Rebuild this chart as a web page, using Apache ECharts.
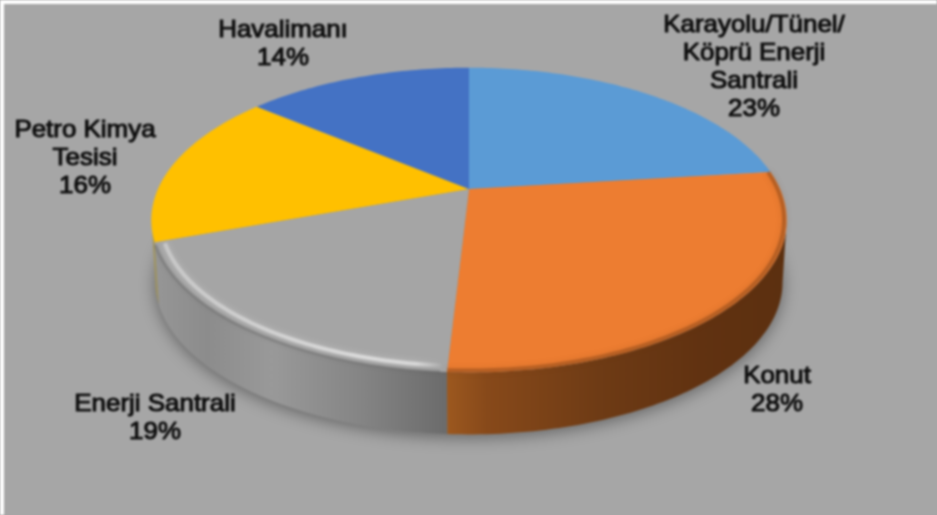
<!DOCTYPE html>
<html>
<head>
<meta charset="utf-8">
<script src="https://cdn.jsdelivr.net/npm/echarts@6/dist/echarts.min.js"></script>
<style>
  html, body { margin: 0; padding: 0; background: #a6a6a6; overflow: hidden; }
  #chart { width: 937px; height: 515px; filter: blur(0.85px); }
</style>
</head>
<body>
<div id="chart"></div>
<script>
const categories = ['Karayolu/Tünel/\nKöprü Enerji\nSantrali', 'Konut', 'Enerji Santrali', 'Petro Kimya\nTesisi', 'Havalimanı']
const values = [23.1, 27.8, 18.6, 16.49, 14.01]
const colors = ['#5b9bd5', '#ed7d31', '#a5a5a5', '#ffc000', '#4472c4']

// label anchor (center x, middle y) per slice, set by hand like the original
const labelAnchors = [[754, 67], [777, 390], [155, 418], [85, 158], [283, 44]]

const wallStops = [
  null,
  [[0, '#9c581f'], [0.12, '#87491a'], [0.45, '#6e3b15'], [0.75, '#613211'], [1, '#5c3010']],
  [[0, '#969696'], [0.18, '#8c8c8c'], [0.4, '#999999'], [0.7, '#858585'], [1, '#6b6b6b']],
  [[0, '#a89a5a'], [1, '#9a8f60']],
  null
]

// projected disc: center of the pie, radii and perspective factor
const cx = 469
const cy = 189
const rx = 311
const ry = 146
const persp = -0.204
const depth = 62
const bottomScale = 0.987
const total = values.reduce((a, b) => a + b, 0)
const wallFrom = 101.8
const wallTo = 258.2

const project = (deg, r = 1) => {
  const a = deg * Math.PI / 180
  const u = Math.sin(a) * r
  const v = -Math.cos(a) * r
  const d = 1 + persp * v
  return [cx + rx * u / d, cy + ry * v / d]
}
const lower = (p) => [cx + (p[0] - cx) * bottomScale, p[1] + depth]

const arc = (from, to, r = 1) => {
  const pts = []
  const n = Math.max(2, Math.ceil(Math.abs(to - from)))
  for (let i = 0; i <= n; i++) pts.push(project(from + (to - from) * i / n, r))
  return pts
}

const renderSlice = (params) => {
  const i = params.dataIndex
  const start = values.slice(0, i).reduce((a, b) => a + b, 0) / total * 360
  const end = start + values[i] / total * 360
  const children = []

  // soft shadow under the whole pie
  if (i === 0) {
    children.push({
      type: 'polygon',
      z2: -2,
      shape: { points: arc(0, 360).map(lower) },
      style: { fill: '#8a8a8a', shadowBlur: 16, shadowColor: 'rgba(0,0,0,0.4)', shadowOffsetY: 3 }
    })
  }

  // side wall, only where it faces the viewer
  const a = Math.max(start, wallFrom)
  const b = Math.min(end, wallTo)
  if (b > a && wallStops[i]) {
    const rim = arc(a, b)
    children.push({
      type: 'polygon',
      z2: 1,
      shape: { points: rim.concat(rim.map(lower).reverse()) },
      style: {
        fill: new echarts.graphic.LinearGradient(0, 0, 1, 0,
          wallStops[i].map(s => ({ offset: s[0], color: s[1] })))
      }
    })
  }

  // top face
  children.push({
    type: 'polygon',
    z2: 2,
    shape: { points: [[cx, cy]].concat(arc(start, end)) },
    style: { fill: colors[i] }
  })

  // bevel highlight and rim shading
  if (i === 2) {
    children.push({
      type: 'polyline',
      z2: 3,
      shape: { points: arc(start + 1, end - 1, 1) },
      style: { fill: 'none', stroke: 'rgba(95,95,95,0.35)', lineWidth: 3, shadowBlur: 4, shadowColor: 'rgba(95,95,95,0.4)' }
    })
    children.push({
      type: 'polyline',
      z2: 3,
      shape: { points: arc(start + 1, end - 1, 0.972) },
      style: {
        fill: 'none',
        stroke: new echarts.graphic.LinearGradient(0, 0, 1, 0, [
          { offset: 0, color: 'rgba(205,205,205,0.8)' },
          { offset: 0.7, color: 'rgba(222,222,222,0.9)' },
          { offset: 0.9, color: 'rgba(222,222,222,0.85)' },
          { offset: 1, color: 'rgba(222,222,222,0)' }
        ]),
        lineWidth: 4,
        shadowBlur: 6,
        shadowColor: 'rgba(215,215,215,0.6)'
      }
    })
  }
  if (i === 1) {
    children.push({
      type: 'polyline',
      z2: 3,
      shape: { points: arc(Math.max(start, wallFrom - 20), end, 0.992) },
      style: { fill: 'none', stroke: 'rgba(120,62,20,0.4)', lineWidth: 4, shadowBlur: 6, shadowColor: 'rgba(120,62,20,0.5)' }
    })
  }

  // data label
  children.push({
    type: 'text',
    z2: 5,
    x: labelAnchors[i][0],
    y: labelAnchors[i][1],
    scaleX: 1.08,
    style: {
      text: categories[i] + '\n' + Math.round(values[i]) + '%',
      align: 'center',
      verticalAlign: 'middle',
      fontFamily: '"Liberation Sans", Arial, sans-serif',
      fontSize: 24,
      lineHeight: 28,
      fill: '#0e0e0e',
      stroke: '#0e0e0e',
      lineWidth: 1
    }
  })

  return { type: 'group', children }
}

const chart = echarts.init(document.getElementById('chart'))

chart.setOption({
  animation: false,
  backgroundColor: '#fff',
  tooltip: { show: false },
  graphic: [{
    type: 'rect',
    z: -10,
    silent: true,
    shape: { x: 4, y: 4, width: 933, height: 511 },
    style: { fill: '#a6a6a6' }
  }],
  series: [{
    type: 'custom',
    coordinateSystem: 'none',
    renderItem: renderSlice,
    data: categories.map((name, i) => ({ name, value: values[i] }))
  }]
})

window.addEventListener('resize', () => chart.resize())
</script>
</body>
</html>
